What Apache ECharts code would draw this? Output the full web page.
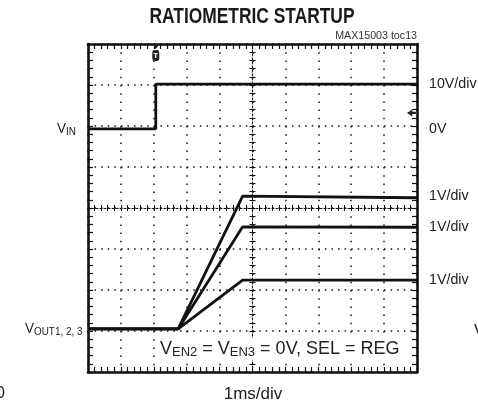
<!DOCTYPE html>
<html><head><meta charset="utf-8">
<script src="https://cdn.jsdelivr.net/npm/echarts@6/dist/echarts.min.js"></script>
<style>html,body{margin:0;padding:0;background:#fff}#c{width:478px;height:406px}</style>
</head><body><div id="c"></div>
<script>
// Time axis: 1 ms/div, 10 divisions. Vertical: 8 divisions (values in divisions from bottom).
const triggerTime = 2.06;
const vinTime = [0, triggerTime, triggerTime, 10];
const vinDiv = [5.93, 5.93, 7.02, 7.02];
const outTime = [0, 2.74, 4.70, 10];
const vout1Div = [1.05, 1.05, 4.29, 4.25];
const vout2Div = [1.05, 1.05, 3.54, 3.53];
const vout3Div = [1.05, 1.05, 2.24, 2.24];
const groundMarkDiv = 6.32;
const scaleLabels = ['10V/div', '0V', '1V/div', '1V/div', '1V/div'];
const scaleLabelLevels = [7.02, 5.93, 4.29, 3.54, 2.24];

const INK = '#111';
const pairs = (xs, ys) => xs.map((x, i) => [x, ys[i]]);

function axisBase(extra) {
  return Object.assign({
    type: 'value', gridIndex: 0,
    axisLabel: { show: false },
    splitLine: { show: false },
  }, extra);
}
function frameAxis(dim, position) {
  const isX = dim === 'x';
  return axisBase({
    min: 0, max: isX ? 10 : 8, interval: 1, position: position,
    axisLine: { show: true, onZero: false, lineStyle: { color: INK, width: 2.6 } },
    axisTick: { show: true, inside: true, length: 5, lineStyle: { color: INK, width: 1.2 } },
    minorTick: { show: true, splitNumber: 5, length: 5, lineStyle: { color: INK, width: 1.2 } },
  });
}
function centerAxis(dim, inside, offset) {
  const isX = dim === 'x';
  return axisBase({
    min: 0, max: isX ? 10 : 8, interval: 1, position: isX ? 'bottom' : 'left', offset: offset,
    axisLine: { show: inside, onZero: false, lineStyle: { color: INK, width: 1, type: [2, 2] } },
    axisTick: { show: true, inside: inside, length: 3, lineStyle: { color: INK, width: 1 } },
    minorTick: { show: true, splitNumber: 5, length: 3, lineStyle: { color: INK, width: 1 } },
  });
}

const xMain = frameAxis('x', 'bottom');
xMain.splitLine = { show: true, lineStyle: { color: INK, width: 1.5, type: [1.5, 6.7] } };
const yMain = frameAxis('y', 'left');
yMain.splitLine = { show: true, lineStyle: { color: INK, width: 1.5, type: [1.5, 5.08] } };

const traceStyle = { color: INK, width: 2.8 };
function trace(xs, ys, extra) {
  return Object.assign({
    type: 'line', xAxisIndex: 0, yAxisIndex: 0, data: pairs(xs, ys),
    showSymbol: false, symbol: 'none', lineStyle: traceStyle, silent: true,
  }, extra || {});
}

const chart = echarts.init(document.getElementById('c'), null, { renderer: 'canvas' });
chart.setOption({
  animation: false,
  backgroundColor: '#fff',
  grid: { left: 88, top: 44, width: 329, height: 328, outerBoundsMode: 'none' },
  xAxis: [xMain, frameAxis('x', 'top'), centerAxis('x', true, -164), centerAxis('x', false, -164)],
  yAxis: [yMain, frameAxis('y', 'right'), centerAxis('y', true, -164.5), centerAxis('y', false, -164.5)],
  series: [
    trace(vinTime, vinDiv, {
      markPoint: {
        silent: true,
        data: [
          { coord: [triggerTime, 7.72], symbol: 'roundRect', symbolSize: [7, 11], itemStyle: { color: '#222' },
            label: { show: true, formatter: 'T', color: '#fff', fontSize: 8, fontWeight: 'bold', fontFamily: 'Liberation Sans' } },
          { coord: [triggerTime, 7.93], symbol: 'triangle', symbolRotate: 180, symbolSize: [7, 5], itemStyle: { color: '#222' }, label: { show: false } },
          { coord: [9.83, groundMarkDiv], symbol: 'path://M0,5 L6,0 L6,3.5 L10,3.5 L10,6.5 L6,6.5 L6,10 Z', symbolSize: [9, 7], itemStyle: { color: '#222' }, label: { show: false } },
        ],
      },
    }),
    trace(outTime, vout1Div),
    trace(outTime, vout2Div),
    trace(outTime, vout3Div),
  ],
});

const px = (x, y) => chart.convertToPixel({ gridIndex: 0 }, [x, y]);
const F = '"Liberation Sans", Arial, sans-serif';
const graphics = [];
function txt(text, x, y, font, align, sx, extra) {
  graphics.push({ type: 'text', silent: true, z: 100, x: x, y: y, scaleX: sx || 1, style: Object.assign({
    text: text, x: 0, y: 0, font: font, fill: '#222', align: align || 'left', verticalAlign: 'middle',
  }, extra || {}) });
}
const richOf = (m, s) => ({ v: { font: m + 'px ' + F, fill: '#222' }, s: { font: s + 'px ' + F, fill: '#222', padding: [Math.round(m * 0.38), 0, 0, 0] } });

txt('RATIOMETRIC STARTUP', 252, 17, 'bold 22px ' + F, 'center', 0.79, { fill: '#1a1a1a' });
txt('MAX15003 toc13', 417, 36, '11px ' + F, 'right', 0.97, { fill: '#333' });
scaleLabels.forEach((s, i) => {
  const p = px(10, scaleLabelLevels[i]);
  txt(s, 429, p[1], '15px ' + F, 'left', 0.95);
});
const vinY = px(0, vinDiv[0])[1];
const voutY = px(0, vout1Div[0])[1];
txt('{v|V}{s|IN}', 57, vinY, '15px ' + F, 'left', 0.9, { rich: richOf(15, 11) });
txt('{v|V}{s|OUT1, 2, 3}', 25, voutY, '15px ' + F, 'left', 0.9, { rich: richOf(15, 11) });
txt('{v|V}{s|EN2}{v| = V}{s|EN3}{v| = 0V, SEL = REG}', 157, 349, '18px ' + F, 'left', 1,
  { rich: richOf(18, 13), backgroundColor: '#fff', padding: [1, 3, 1, 3] });
txt('1ms/div', 253, 394, '17px ' + F, 'center');
txt('0', 5, 394, '16px ' + F, 'right');
txt('V', 474, 332, '16px ' + F, 'left');
chart.setOption({ graphic: graphics });
</script>
</body></html>
